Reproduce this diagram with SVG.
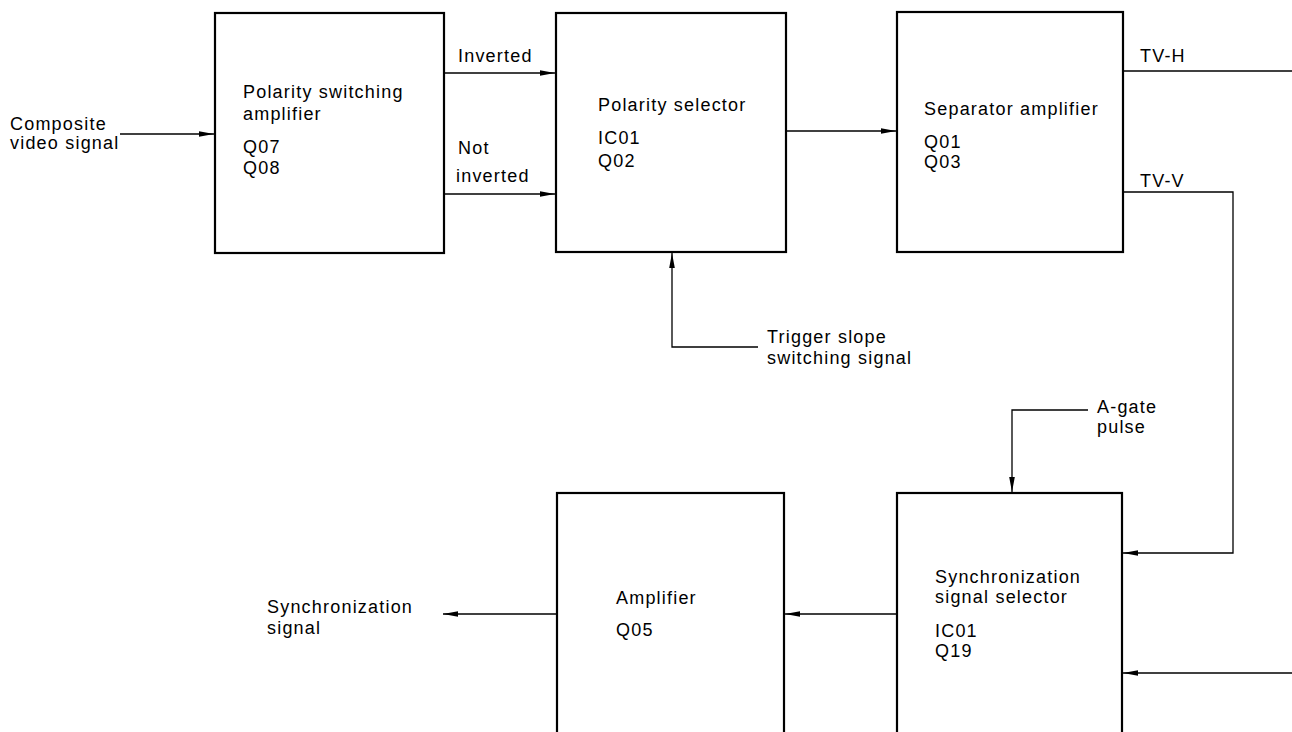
<svg xmlns="http://www.w3.org/2000/svg" width="1292" height="732" viewBox="0 0 1292 732">
  <style>
    .box { fill: #fff; stroke: #000; stroke-width: 2.2; }
    .wire { fill: none; stroke: #000; stroke-width: 1.3; }
    text { font-family: "Liberation Sans", Arial, sans-serif; font-size: 18px; letter-spacing: 1.2px; fill: #000; }
  </style>
  <defs>
    <marker id="arr" markerUnits="userSpaceOnUse" markerWidth="16" markerHeight="8" refX="15" refY="4" orient="auto">
      <path d="M0,1.2 L15,4 L0,6.8 z" fill="#000"/>
    </marker>
  </defs>
  <rect width="1292" height="732" fill="#fff"/>

  <g id="connectors">
    <path class="wire" d="M120,134 H214" marker-end="url(#arr)"/>
    <path class="wire" d="M444,73 H555" marker-end="url(#arr)"/>
    <path class="wire" d="M444,194 H555" marker-end="url(#arr)"/>
    <path class="wire" d="M786,131 H896" marker-end="url(#arr)"/>
    <path class="wire" d="M1123,71 H1292"/>
    <path class="wire" d="M1123,192 H1233 V553 H1123" marker-end="url(#arr)"/>
    <path class="wire" d="M758,347 H672 V253" marker-end="url(#arr)"/>
    <path class="wire" d="M1088,410 H1012 V492" marker-end="url(#arr)"/>
    <path class="wire" d="M1292,673 H1123" marker-end="url(#arr)"/>
    <path class="wire" d="M897,614 H785" marker-end="url(#arr)"/>
    <path class="wire" d="M557,614 H443" marker-end="url(#arr)"/>
  </g>

  <g id="labels">
    <text x="10" y="130">Composite</text>
    <text x="10" y="149">video signal</text>
    <text x="458" y="62">Inverted</text>
    <text x="458" y="154">Not</text>
    <text x="456" y="182">inverted</text>
    <text x="1140" y="62">TV-H</text>
    <text x="1140" y="187">TV-V</text>
    <text x="767" y="343">Trigger slope</text>
    <text x="767" y="364">switching signal</text>
    <text x="1097" y="413">A-gate</text>
    <text x="1097" y="433">pulse</text>
    <text x="267" y="613">Synchronization</text>
    <text x="267" y="634">signal</text>
  </g>

  <g id="polarity-switching-amplifier">
    <rect class="box" x="215" y="13" width="229" height="240"/>
    <text x="243" y="98">Polarity switching</text>
    <text x="243" y="120">amplifier</text>
    <text x="243" y="153">Q07</text>
    <text x="243" y="174">Q08</text>
  </g>

  <g id="polarity-selector">
    <rect class="box" x="556" y="13" width="230" height="239"/>
    <text x="598" y="111">Polarity selector</text>
    <text x="598" y="144">IC01</text>
    <text x="598" y="167">Q02</text>
  </g>

  <g id="separator-amplifier">
    <rect class="box" x="897" y="12" width="226" height="240"/>
    <text x="924" y="115">Separator amplifier</text>
    <text x="924" y="148">Q01</text>
    <text x="924" y="168">Q03</text>
  </g>

  <g id="amplifier">
    <rect class="box" x="557" y="493" width="227" height="260"/>
    <text x="616" y="604">Amplifier</text>
    <text x="616" y="636">Q05</text>
  </g>

  <g id="sync-signal-selector">
    <rect class="box" x="897" y="493" width="225" height="260"/>
    <text x="935" y="583">Synchronization</text>
    <text x="935" y="603">signal selector</text>
    <text x="935" y="637">IC01</text>
    <text x="935" y="657">Q19</text>
  </g>
</svg>
